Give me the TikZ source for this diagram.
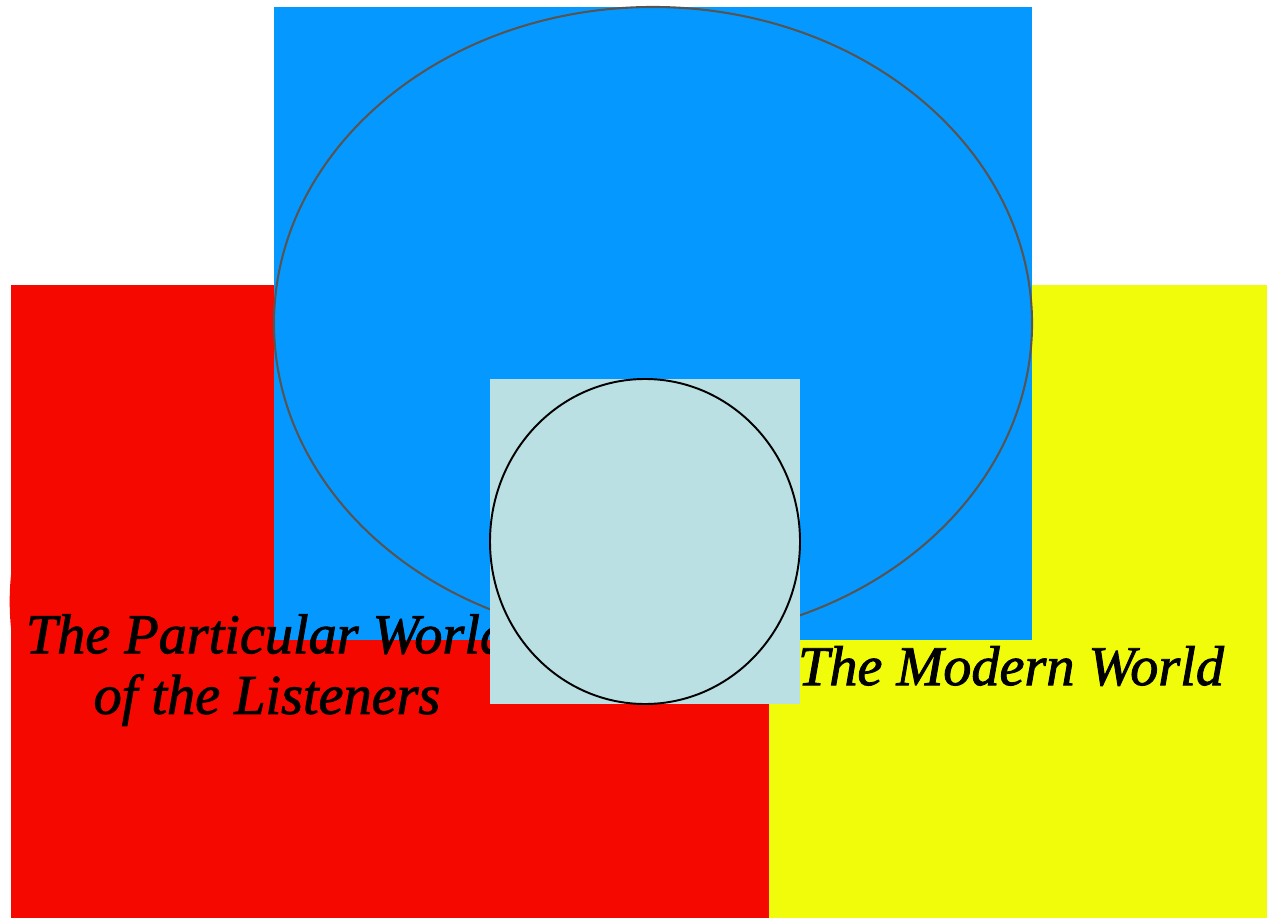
\documentclass[tikz,border=0pt]{standalone}
\usepackage{fontspec}
\setmainfont{Liberation Serif}
\newfontfamily\worldfont{Liberation Serif}[ItalicFeatures={FakeBold=1.6}]
\usepackage{tikz}
\usetikzlibrary{positioning}
\definecolor{worldred}{HTML}{F40800}
\definecolor{worldyellow}{HTML}{F0FC0A}
\definecolor{worldblue}{HTML}{0599FF}
\definecolor{worldpale}{HTML}{BBE0E3}
\definecolor{rimgray}{HTML}{555555}
\tikzset{
  px/.style={x=0.02cm, y=-0.02cm},
  worldlabel/.style={
    font=\worldfont\itshape\fontsize{32}{34.5}\selectfont,
    align=center,
    inner sep=0pt,
    text=black
  },
  rim/.style={line width=1.5pt}
}

\begin{document}
\begin{tikzpicture}[px]
  \useasboundingbox (0,0) rectangle (1267,918);

  % the two worlds below
  \fill[worldred] (11,285) rectangle (769,918);
  \draw[worldred, rim] (390,601.5) ellipse [x radius=379, y radius=316.5];
  \fill[worldyellow] (769,285) rectangle (1267,918);

  % the large world above
  \fill[worldblue] (274,7) rectangle (1032,640);
  \draw[rimgray, line width=1.2pt] (653,323.5) ellipse [x radius=379, y radius=316.5];

  \node[worldlabel] (particular) at (267,670) {The Particular World\\of the Listeners};
  \node[worldlabel] (modern) at (1011,666) {The Modern World};

  % the small world in the middle
  \fill[worldpale] (490,379) rectangle (800,704);
  \draw[black, line width=1.1pt] (645,541.5) ellipse [x radius=155, y radius=162.5];
\end{tikzpicture}
\end{document}
